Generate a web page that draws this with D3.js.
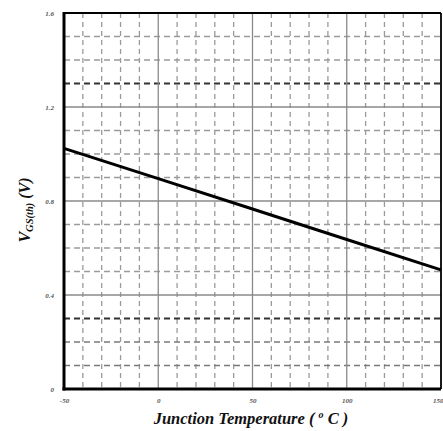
<!DOCTYPE html>
<html>
<head>
<meta charset="utf-8">
<script src="https://cdn.jsdelivr.net/npm/d3@7"></script>
<style>
  html, body { margin: 0; padding: 0; background: #fff; }
  svg { display: block; }
  text { font-family: "Liberation Serif", "Times New Roman", serif; }
</style>
</head>
<body>
<svg id="chart" width="443" height="431"></svg>
<script>
// Gate threshold voltage vs junction temperature
const temps = [-50, 0, 50, 100, 150];
const vgsth = [1.024, 0.895, 0.766, 0.636, 0.507];

const xTicks = [-50, 0, 50, 100, 150];
const xTickLabels = ["-50", "0", "50", "100", "150"];
const yTicks = [0, 0.4, 0.8, 1.2, 1.6];
const yTickLabels = ["0", "0.4", "0.8", "1.2", "1.6"];
const xMinor = d3.range(-40, 150, 10).filter(v => v % 50 !== 0);
const yMinor = [0.1, 0.2, 0.3, 0.5, 0.6, 0.7, 0.9, 1.0, 1.1, 1.3, 1.4, 1.5];
const yStrong = [0.3, 1.3];

const margin = { left: 64, right: 2, top: 13, bottom: 42 };
const W = 443, H = 431;
const svg = d3.select("#chart");

const x = d3.scaleLinear().domain([-50, 150]).range([margin.left, W - margin.right]);
const y = d3.scaleLinear().domain([0, 1.6]).range([H - margin.bottom, margin.top]);

const grid = svg.append("g");

// minor vertical dashed lines
grid.selectAll(".vminor").data(xMinor).join("line")
  .attr("x1", d => x(d)).attr("x2", d => x(d))
  .attr("y1", y(1.6)).attr("y2", y(0))
  .attr("stroke", "#9a9a9a").attr("stroke-width", 1.3)
  .attr("stroke-dasharray", "5,4");

// minor horizontal dashed lines
grid.selectAll(".hminor").data(yMinor.filter(v => !yStrong.includes(v))).join("line")
  .attr("x1", x(-50)).attr("x2", x(150))
  .attr("y1", d => y(d)).attr("y2", d => y(d))
  .attr("stroke", d => d < 0.25 ? "#7a7a7a" : "#9a9a9a").attr("stroke-width", 1.3)
  .attr("stroke-dasharray", "6,4");

grid.selectAll(".hstrong").data(yStrong).join("line")
  .attr("x1", x(-50)).attr("x2", x(150))
  .attr("y1", d => y(d)).attr("y2", d => y(d))
  .attr("stroke", "#333").attr("stroke-width", 2)
  .attr("stroke-dasharray", "6,4");

// major solid grid lines
grid.selectAll(".vmajor").data([0, 50, 100]).join("line")
  .attr("x1", d => x(d)).attr("x2", d => x(d))
  .attr("y1", y(1.6)).attr("y2", y(0))
  .attr("stroke", "#8a8a8a").attr("stroke-width", 1.3);
grid.selectAll(".hmajor").data([0.4, 0.8, 1.2]).join("line")
  .attr("x1", x(-50)).attr("x2", x(150))
  .attr("y1", d => y(d)).attr("y2", d => y(d))
  .attr("stroke", "#8a8a8a").attr("stroke-width", 1.3);

// data curve
const line = d3.line().x((d, i) => x(temps[i])).y(d => y(d));
svg.append("path").datum(vgsth)
  .attr("d", line).attr("fill", "none")
  .attr("stroke", "#000").attr("stroke-width", 3);

// frame
svg.append("line").attr("x1", x(-50)).attr("x2", x(150)).attr("y1", y(1.6)).attr("y2", y(1.6))
  .attr("stroke", "#000").attr("stroke-width", 2.2);
svg.append("line").attr("x1", x(150)).attr("x2", x(150)).attr("y1", y(1.6)).attr("y2", y(0))
  .attr("stroke", "#000").attr("stroke-width", 1.8);
svg.append("line").attr("x1", x(-50)).attr("x2", x(-50)).attr("y1", y(1.6) - 1).attr("y2", y(0) + 1.5)
  .attr("stroke", "#000").attr("stroke-width", 3);
svg.append("line").attr("x1", x(-50) - 1.5).attr("x2", x(150)).attr("y1", y(0)).attr("y2", y(0))
  .attr("stroke", "#000").attr("stroke-width", 3);

// tick labels
const xAxis = d3.axisBottom(x).tickValues(xTicks)
  .tickFormat((d, i) => xTickLabels[i]).tickSize(0).tickPadding(9);
const gx = svg.append("g").attr("transform", `translate(0,${y(0)})`).call(xAxis);
gx.select(".domain").remove();
gx.selectAll("text").attr("font-family", "Liberation Serif, serif")
  .attr("font-style", "italic").attr("font-weight", "bold")
  .attr("font-size", 7).attr("fill", "#555");
// keep the last label inside the page edge
gx.selectAll(".tick").filter(d => d === 150).select("text")
  .attr("text-anchor", "end").attr("dx", 2);

const yAxis = d3.axisLeft(y).tickValues(yTicks)
  .tickFormat((d, i) => yTickLabels[i]).tickSize(0).tickPadding(10);
const gy = svg.append("g").attr("transform", `translate(${x(-50)},0)`).call(yAxis);
gy.select(".domain").remove();
gy.selectAll("text").attr("font-family", "Liberation Serif, serif")
  .attr("font-style", "italic").attr("font-weight", "bold")
  .attr("font-size", 7).attr("fill", "#555");

// axis titles
const xt = svg.append("text")
  .attr("x", 251).attr("y", 424)
  .attr("text-anchor", "middle")
  .attr("font-style", "italic").attr("font-weight", "bold")
  .attr("font-size", 16.5).attr("fill", "#111");
xt.append("tspan").text("Junction Temperature ( ");
xt.append("tspan").attr("font-size", 10).attr("dy", -6).text("o");
xt.append("tspan").attr("dy", 6).text(" C )");

const yt = svg.append("text")
  .attr("transform", "translate(30,210) rotate(-90)")
  .attr("text-anchor", "middle")
  .attr("font-style", "italic").attr("font-weight", "bold")
  .attr("font-size", 16).attr("fill", "#111");
yt.append("tspan").text("V");
yt.append("tspan").attr("font-size", 10.5).attr("dy", 3).text("GS(th)");
yt.append("tspan").attr("dy", -3).text(" (V)");
</script>
</body>
</html>
